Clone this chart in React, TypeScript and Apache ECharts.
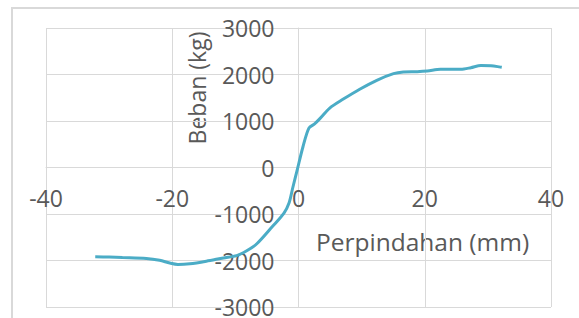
import React, { useEffect, useRef } from "react";
import * as echarts from "echarts";

const displacement = [
  -32.2, -30, -27.9, -24.1, -22, -20.4, -19.1, -17.2, -14.6, -11.9, -9.8, -8.2,
  -6.6, -4.1, -2.3, -1.5, -0.9, -0.2, 0.7, 1.65, 2.55, 3.35, 4.95, 7.1, 9.7,
  12.4, 15.05, 16.6, 18.8, 20.4, 22.5, 25.7, 27.3, 28.9, 30.5, 32.2,
];
const load = [
  -1920, -1925, -1935, -1955, -1995, -2055, -2085, -2070, -2015, -1945, -1895,
  -1790, -1640, -1264, -979, -764, -430, -50, 441, 846, 938, 1045, 1279, 1471,
  1684, 1876, 2018, 2054, 2061, 2075, 2111, 2111, 2146, 2196, 2189, 2154,
];
const xTitle = "Perpindahan (mm)";
const yTitle = "Beban (kg)";

const FONT = "'Open Sans', sans-serif";
const TEXT = "#595959";
const GRID = "#d9d9d9";

const GRID_LEFT = 46;
const GRID_RIGHT = 28;
const GRID_TOP = 28;
const GRID_BOTTOM = 11;
const W = 579;
const H = 318;

export default function App() {
  const ref = useRef<HTMLDivElement>(null);
  useEffect(() => {
    if (!ref.current) return;
    const chart = echarts.init(ref.current, undefined, { renderer: "svg" });
    const plotW = W - GRID_LEFT - GRID_RIGHT;
    const plotH = H - GRID_TOP - GRID_BOTTOM;
    chart.setOption({
      animation: false,
      backgroundColor: "#ffffff",
      grid: {
        left: GRID_LEFT,
        right: GRID_RIGHT,
        top: GRID_TOP,
        bottom: GRID_BOTTOM,
        containLabel: false,
        outerBoundsMode: "none",
      },
      xAxis: {
        type: "value",
        min: -40,
        max: 40,
        interval: 20,
        position: "bottom",
        offset: -plotH / 2,
        axisLine: { onZero: false, lineStyle: { color: GRID, width: 1 } },
        axisTick: { show: false },
        splitLine: { show: true, lineStyle: { color: GRID, width: 1 } },
        axisLabel: {
          margin: 19,
          fontFamily: FONT,
          fontSize: 23,
          color: TEXT,
          formatter: (v: number) => String(v),
        },
      },
      yAxis: {
        type: "value",
        min: -3000,
        max: 3000,
        interval: 1000,
        position: "left",
        offset: -plotW / 2,
        axisLine: { show: true, onZero: false, lineStyle: { color: GRID, width: 1 } },
        axisTick: { show: false },
        splitLine: { show: true, lineStyle: { color: GRID, width: 1 } },
        axisLabel: {
          margin: 24,
          fontFamily: FONT,
          fontSize: 23,
          color: TEXT,
          formatter: (v: number) => String(v),
        },
      },
      graphic: [
        {
          type: "rect",
          shape: { x: 12, y: 8, width: 700, height: 500 },
          style: { fill: "none", stroke: GRID, lineWidth: 2 },
          silent: true,
        },
        {
          type: "text",
          x: 316,
          y: 241,
          style: {
            text: xTitle,
            fontFamily: FONT,
            fontSize: 24.5,
            fill: TEXT,
            align: "left",
            verticalAlign: "middle",
          },
        },
        {
          type: "text",
          x: 197,
          y: 88,
          rotation: Math.PI / 2,
          style: {
            text: yTitle,
            fontFamily: FONT,
            fontSize: 23,
            fill: TEXT,
            align: "center",
            verticalAlign: "middle",
          },
        },
      ],
      series: [
        {
          type: "line",
          data: displacement.map((x, i) => [x, load[i]]),
          showSymbol: false,
          smooth: 0.3,
          lineStyle: { color: "#4bacc6", width: 3 },
          z: 5,
        },
      ],
    });
    return () => chart.dispose();
  }, []);
  return (
    <div
      ref={ref}
      style={{ position: "fixed", left: 0, top: 0, width: W, height: H }}
    />
  );
}
